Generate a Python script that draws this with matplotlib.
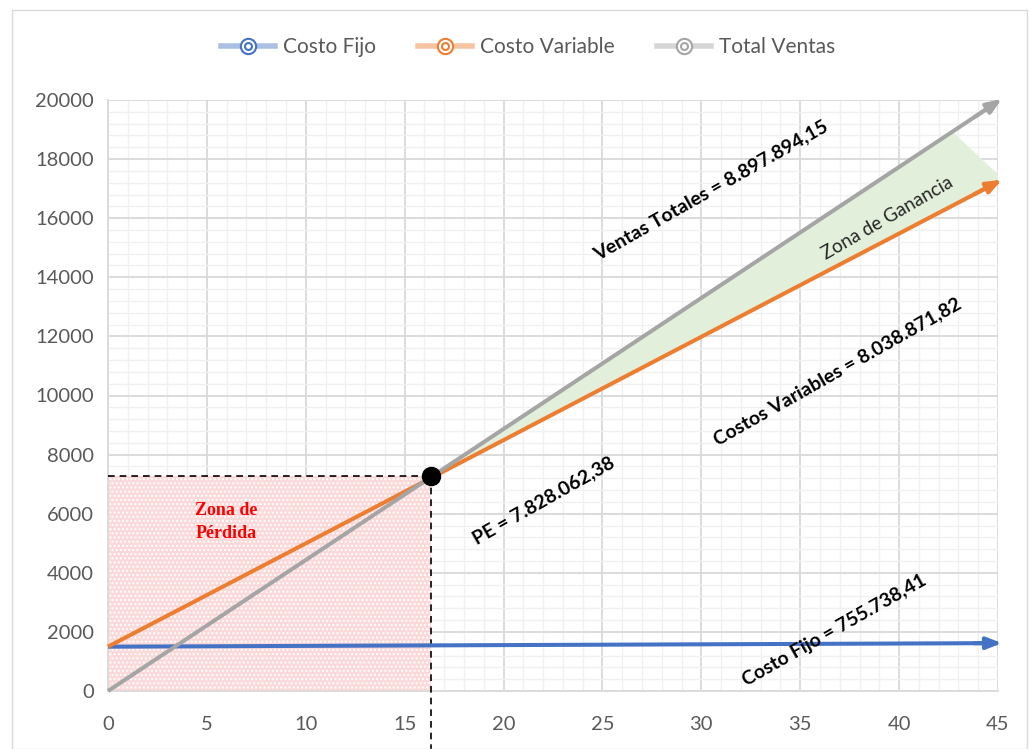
import matplotlib.pyplot as plt
from matplotlib.lines import Line2D
from matplotlib.patches import Rectangle, Polygon
import numpy as np

plt.rcParams['font.family'] = ['Lato', 'DejaVu Sans']

# data
x_pts = [0, 45]
costo_fijo = [1500, 1620]
costo_variable = [1500, 17230]
total_ventas = [0, 19950]
pe_x, pe_y = 16.35, 7260
green_cut_x = 42.7

BLUE = '#4472C4'
ORANGE = '#ED7D31'
GRAY = '#A5A5A5'

fig = plt.figure(figsize=(10.29, 7.49), dpi=100)
ax = fig.add_axes([108/1029, 1-691/749, 890/1029, 591/749])

# outer chart border
fig.patches.append(Rectangle((12/1029, 0.0), 1015/1029, 1-10/749, transform=fig.transFigure,
                             fill=False, edgecolor='#D9D9D9', linewidth=1))

ax.set_xlim(0, 45)
ax.set_ylim(0, 20000)
ax.set_xticks(np.arange(0, 46, 5))
ax.set_yticks(np.arange(0, 20001, 2000))
ax.set_xticks(np.arange(0, 46, 1), minor=True)
ax.set_yticks(np.arange(0, 20001, 400), minor=True)
ax.grid(which='major', color='#D9D9D9', linewidth=1.3, zorder=0)
ax.grid(which='minor', color='#F0F0F0', linewidth=1.0, zorder=0)
ax.set_axisbelow(True)
for s in ['top', 'right']:
    ax.spines[s].set_visible(False)
for s in ['left', 'bottom']:
    ax.spines[s].set_color('#D9D9D9')
    ax.spines[s].set_linewidth(1.3)
ax.tick_params(which='both', length=0)
ax.tick_params(axis='y', labelsize=14.5, labelcolor='#595959', pad=10)
ax.tick_params(axis='x', labelsize=14.5, labelcolor='#595959', pad=18)

# loss zone
ax.add_patch(Rectangle((0, 0), pe_x, pe_y, facecolor='#FCD9D9', edgecolor='white',
                       hatch='....', linewidth=0, zorder=1))

# profit zone
def interp(xv, ys):
    return np.interp(xv, x_pts, ys)

poly = [(pe_x, pe_y), (green_cut_x, interp(green_cut_x, total_ventas)),
        (45, interp(45, costo_variable) + 250), (45, interp(45, costo_variable) - 100)]
ax.add_patch(Polygon(poly, closed=True, facecolor='#E2EFDA', edgecolor='none', zorder=1))

# dashed guides
ax.plot([0, pe_x], [pe_y, pe_y], color='black', linestyle=(0, (4, 3)), linewidth=1.2, zorder=3)
ax.plot([pe_x, pe_x], [pe_y, -2000], color='black', linestyle=(0, (4, 3)), linewidth=1.2,
        zorder=3, clip_on=False)

series = [('Costo Fijo', costo_fijo, BLUE),
          ('Costo Variable', costo_variable, ORANGE),
          ('Total Ventas', total_ventas, GRAY)]
for name, ys, col in series:
    ax.plot(x_pts, ys, color=col, linewidth=2.9, zorder=4, solid_capstyle='butt',
            clip_on=False)
    x0 = x_pts[-1] - 1.2
    ax.annotate('', xy=(x_pts[-1] + 0.2, ys[-1] + (ys[-1] - ys[0]) / 45 * 0.2),
                xytext=(x0, interp(x0, ys)),
                arrowprops=dict(arrowstyle='-|>,head_length=0.9,head_width=0.35',
                                color=col, linewidth=2.9, shrinkA=0, shrinkB=0),
                zorder=5, annotation_clip=False)

ax.plot([pe_x], [pe_y], 'o', color='black', markersize=13, zorder=6)

# labels
bold = dict(fontsize=14, fontweight='bold', color='black', ha='center', va='center',
            rotation=29.5, rotation_mode='anchor', zorder=7)
ax.text(30.5, 16950, 'Ventas Totales = 8.897.894,15', **bold)
ax.text(36.9, 10800, 'Costos Variables = 8.038.871,82', **bold)
ax.text(22.0, 6460, 'PE = 7.828.062,38', **bold)
ax.text(36.75, 2050, 'Costo Fijo = 755.738,41', **bold)
ax.text(39.4, 16000, 'Zona de Ganancia', fontsize=13.5, color='#262626', ha='center',
        va='center', rotation=30, rotation_mode='anchor', zorder=7)
ax.text(6.0, 5720, 'Zona de\nPérdida', fontsize=13, fontweight='bold', color='red',
        family='Liberation Serif', ha='center', va='center', linespacing=1.5, zorder=7)

# legend
handles = []
for name, ys, col in series:
    handles.append((Line2D([], [], color=col, linewidth=4, alpha=0.45),
                    Line2D([], [], color=col, marker='o', markersize=11, linestyle='none',
                           markerfacecolor='white', markeredgewidth=1.5),
                    Line2D([], [], color=col, marker='o', markersize=5, linestyle='none',
                           markerfacecolor='white', markeredgewidth=1.5)))
fig.legend(handles, [s[0] for s in series], loc='center', bbox_to_anchor=(528/1029, 1-47/749),
           ncol=3, frameon=False, fontsize=15, labelcolor='#595959', handlelength=2.6,
           columnspacing=2.0, handletextpad=0.4)

fig.savefig('out.png', dpi=100)
